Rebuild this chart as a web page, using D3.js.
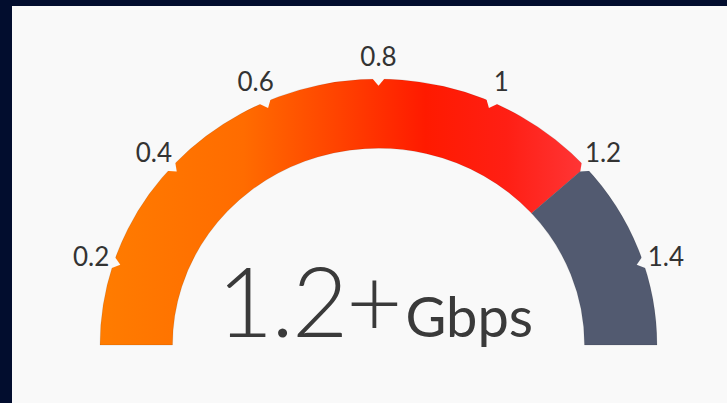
<!DOCTYPE html>
<html>
<head>
<meta charset="utf-8">
<script src="https://cdn.jsdelivr.net/npm/d3@7"></script>
<style>
  html, body { margin: 0; padding: 0; background: #020d2e; }
  svg { display: block; }
</style>
</head>
<body>
<svg id="chart"></svg>
<script>
// gauge data
let tickValues = [0.2, 0.4, 0.6, 0.8, 1, 1.2, 1.4];
let tickLabels = ["0.2", "0.4", "0.6", "0.8", "1", "1.2", "1.4"];
let reading = 1.2;
let readingText = "1.2+";
let unitText = "Gbps";

let width = 727;
let height = 403;
let cx = 378.5;
let cy = 345;
let outerR = 278.5;
let innerR = 206;
let squash = 266 / 278.5;

let svg = d3.select("#chart").attr("width", width).attr("height", height);

// dark frame + light panel
svg.append("rect").attr("width", width).attr("height", height).attr("fill", "#020d2e");
svg.append("rect").attr("x", 12).attr("y", 6).attr("width", width - 12).attr("height", height - 6).attr("fill", "#f9f9f9");

// value -> angle (degrees), 0.2 step = 24 deg
let angleScale = d3.scaleLinear().domain([0.2, 1.4]).range([-72, 72]);
let rad = (v) => angleScale(v) * Math.PI / 180;
let minV = angleScale.invert(-90);
let maxV = angleScale.invert(90);

let defs = svg.append("defs");
let grad = defs.append("linearGradient")
    .attr("id", "hot")
    .attr("gradientUnits", "userSpaceOnUse")
    .attr("x1", -outerR).attr("y1", 0)
    .attr("x2", 200).attr("y2", 0);
[[0, "#ff7c00"], [0.3, "#ff6c00"], [0.5, "#ff4200"], [0.68, "#ff1a00"], [0.85, "#ff1f14"], [1, "#ff3434"]]
    .forEach(s => grad.append("stop").attr("offset", s[0]).attr("stop-color", s[1]));

let g = svg.append("g")
    .attr("transform", "translate(" + cx + "," + cy + ") scale(1," + squash + ")");

let arc = d3.arc().innerRadius(innerR).outerRadius(outerR);

let segments = [
    { from: minV, to: reading, fill: "url(#hot)" },
    { from: reading, to: maxV, fill: "#525a70" }
];

g.selectAll("path.seg")
    .data(segments)
    .enter()
    .append("path")
    .attr("class", "seg")
    .attr("d", d => arc({ startAngle: rad(d.from), endAngle: rad(d.to) }))
    .attr("fill", d => d.fill)
    .attr("stroke", "rgba(0,0,0,0.12)")
    .attr("stroke-width", 0.8);

// little V notches on the outer edge at each tick
let notchW = 1.0 * Math.PI / 180;
let polar = (r, a) => [r * Math.sin(a), -r * Math.cos(a)];
g.selectAll("path.notch")
    .data(tickValues)
    .enter()
    .append("path")
    .attr("class", "notch")
    .attr("d", v => {
        let a = rad(v);
        let p = [polar(outerR + 3, a - notchW * 1.6), polar(outerR - 1, a - notchW),
                 polar(outerR - 7, a), polar(outerR - 1, a + notchW), polar(outerR + 3, a + notchW * 1.6)];
        return d3.line()(p) + "Z";
    })
    .attr("fill", "#f9f9f9");

// tick labels
let labelRx = outerR * 1.085;
let labelRy = outerR * squash * 1.085;
svg.selectAll("text.tick")
    .data(tickValues)
    .enter()
    .append("text")
    .attr("class", "tick")
    .attr("x", v => cx + labelRx * Math.sin(rad(v)))
    .attr("y", v => cy - labelRy * Math.cos(rad(v)))
    .attr("text-anchor", "middle")
    .attr("dominant-baseline", "central")
    .attr("font-family", "Lato, 'Open Sans', sans-serif")
    .attr("font-size", 26)
    .attr("fill", "#333")
    .text((v, i) => tickLabels[i]);

// centre reading
let big = svg.append("text")
    .attr("x", 217)
    .attr("y", 337)
    .attr("font-family", "Lato, 'Open Sans', sans-serif")
    .attr("fill", "#3a3a3a");
big.append("tspan")
    .attr("font-size", 97)
    .attr("font-weight", 300)
    .attr("letter-spacing", -2)
    .text(readingText);
big.append("tspan")
    .attr("font-size", 56)
    .attr("dx", 5)
    .text(unitText);
</script>
</body>
</html>
